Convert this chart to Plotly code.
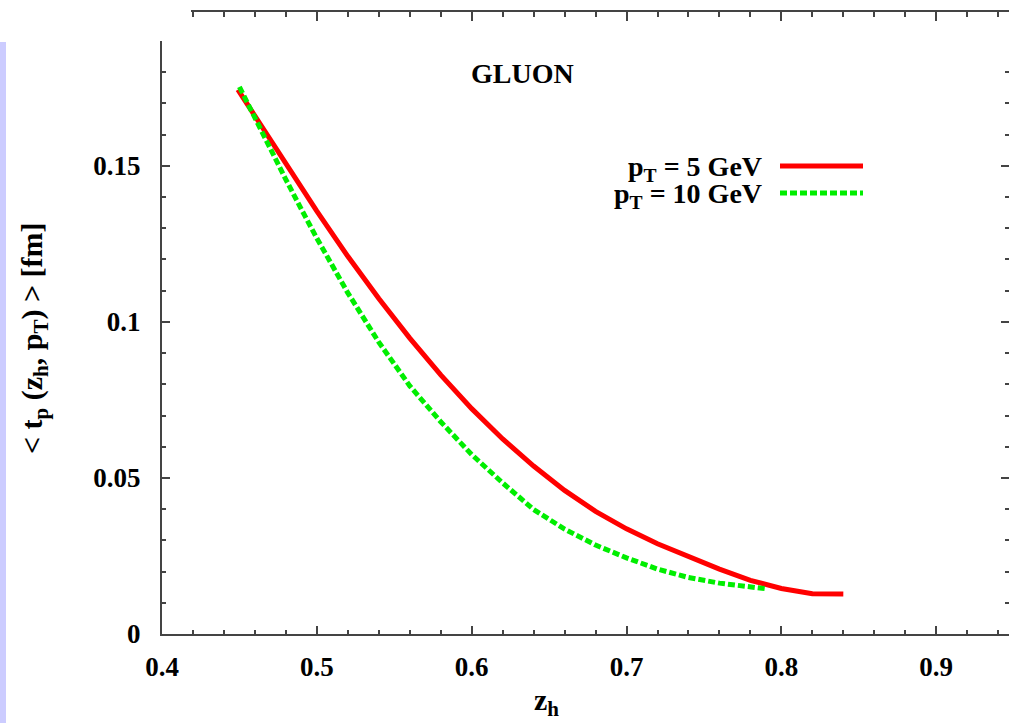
import plotly.graph_objects as go

# <t_p(z_h, p_T)> for gluons, two transverse momenta
z_pt5 = [0.449, 0.46, 0.48, 0.50, 0.52, 0.54, 0.56, 0.58, 0.60, 0.62, 0.64,
         0.66, 0.68, 0.70, 0.72, 0.74, 0.76, 0.78, 0.80, 0.82, 0.84]
t_pt5 = [0.1744, 0.1660, 0.1508, 0.1355, 0.1210, 0.1075, 0.0948, 0.0830, 0.0722, 0.0625, 0.0538,
         0.0460, 0.0393, 0.0337, 0.0289, 0.0247, 0.0208, 0.0172, 0.0146, 0.0129, 0.0128]

z_pt10 = [0.45, 0.46, 0.47, 0.48, 0.49, 0.50, 0.52, 0.54, 0.56, 0.58, 0.60,
          0.62, 0.64, 0.66, 0.68, 0.70, 0.72, 0.74, 0.76, 0.78, 0.79]
t_pt10 = [0.1753, 0.1652, 0.1553, 0.1456, 0.1361, 0.1268, 0.1093, 0.0935, 0.0795, 0.0680, 0.0575,
          0.0484, 0.0399, 0.0336, 0.0285, 0.0244, 0.0208, 0.0181, 0.0163, 0.0149, 0.0145]

x_ticks = [0.4, 0.5, 0.6, 0.7, 0.8, 0.9]
y_ticks = [0, 0.05, 0.1, 0.15]
y_tick_text = ["0", "0.05", "0.1", "0.15"]

W, H = 1009, 723
ML, MR, MT, MB = 162, 0, 11, 89
plot_w = W - ML - MR
plot_h = H - MT - MB
y_top = (634 - 41) / plot_h          # frame top of the main panel

AX = "#444444"
SERIF = "Liberation Serif"
tickfont = dict(family=SERIF, size=27, color="black", weight="bold")

fig = go.Figure()
fig.add_trace(go.Scatter(x=z_pt5, y=t_pt5, mode="lines",
                         line=dict(color="#ff0000", width=5), showlegend=False))
fig.add_trace(go.Scatter(x=z_pt10, y=t_pt10, mode="lines",
                         line=dict(color="#00ee00", width=5, dash="7px,3px"),
                         showlegend=False))
# empty traces so the auxiliary axes get drawn
fig.add_trace(go.Scatter(x=[], y=[], xaxis="x2", yaxis="y", showlegend=False, hoverinfo="skip"))
fig.add_trace(go.Scatter(x=[], y=[], xaxis="x", yaxis="y2", showlegend=False, hoverinfo="skip"))

fig.update_layout(
    width=W, height=H,
    margin=dict(l=ML, r=MR, t=MT, b=MB, pad=0),
    paper_bgcolor="white", plot_bgcolor="rgba(0,0,0,0)",
    showlegend=False,
    xaxis=dict(range=[0.4, 0.947], domain=[0, 1], tickvals=x_ticks,
               ticks="inside", ticklen=8, tickwidth=1.5, tickcolor=AX,
               minor=dict(dtick=0.02, tick0=0.4, ticks="inside", ticklen=4,
                          tickwidth=1.5, tickcolor=AX),
               showline=True, linecolor=AX, linewidth=2,
               showgrid=False, zeroline=False, tickfont=tickfont,
               ticklabelstandoff=8),
    yaxis=dict(range=[0, 0.19], domain=[0, y_top], tickvals=y_ticks, ticktext=y_tick_text,
               ticks="inside", ticklen=8, tickwidth=1.5, tickcolor=AX,
               minor=dict(dtick=0.01, tick0=0, ticks="inside", ticklen=4,
                          tickwidth=1.5, tickcolor=AX),
               showline=True, linecolor=AX, linewidth=2,
               showgrid=False, zeroline=False, tickfont=tickfont,
               ticklabelstandoff=14),
    xaxis2=dict(range=[0.4187, 0.947], domain=[29 / plot_w, 1], anchor="free",
                position=1, side="top", dtick=0.1, tick0=0.4,
                ticks="inside", ticklen=9, tickwidth=1.5, tickcolor=AX,
                minor=dict(dtick=0.02, tick0=0.4, ticks="inside", ticklen=5,
                           tickwidth=1.5, tickcolor=AX),
                showline=True, linecolor=AX, linewidth=1.5,
                showticklabels=False, showgrid=False, zeroline=False),
    yaxis2=dict(range=[0, 0.19], overlaying="y", side="right", anchor="x",
                dtick=0.05, tick0=0, ticks="inside", ticklen=8, tickwidth=1.5,
                tickcolor=AX,
                minor=dict(dtick=0.01, tick0=0, ticks="inside", ticklen=4,
                           tickwidth=1.5, tickcolor=AX),
                showline=False, showticklabels=False, showgrid=False, zeroline=False),
)

# lavender strip along the left edge
fig.add_shape(type="rect", xref="paper", yref="paper",
              x0=-ML / plot_w, x1=(6 - ML) / plot_w,
              y0=-MB / plot_h, y1=(634 - 42) / plot_h,
              fillcolor="#ccccff", line=dict(width=0), layer="below")

def px_x(px):
    return (px - ML) / plot_w

def px_y(py):
    return (634 - py) / plot_h

# legend keys drawn gnuplot-style: label on the left, sample line on the right
legend_rows = [("p<sub>T</sub> = 5 GeV", 166, dict(color="#ff0000", width=5)),
               ("p<sub>T</sub> = 10 GeV", 193, dict(color="#00ee00", width=5, dash="7px,3px"))]
for label, py, lstyle in legend_rows:
    fig.add_annotation(x=px_x(764), y=px_y(py + 2), xref="paper", yref="paper",
                       text=label, showarrow=False, xanchor="right", yanchor="middle",
                       font=dict(family=SERIF, size=28, color="black", weight="bold"))
    fig.add_shape(type="line", xref="paper", yref="paper",
                  x0=px_x(780), x1=px_x(863), y0=px_y(py), y1=px_y(py), line=lstyle)

fig.add_annotation(x=px_x(522), y=px_y(73), xref="paper", yref="paper",
                   text="GLUON", showarrow=False, xanchor="center", yanchor="middle",
                   font=dict(family=SERIF, size=28, color="black", weight="bold"))

fig.add_annotation(x=px_x(546), y=px_y(702), xref="paper", yref="paper",
                   text="z<sub>h</sub>", showarrow=False, xanchor="center", yanchor="middle",
                   font=dict(family=SERIF, size=30, color="black", weight="bold"))

fig.add_annotation(x=px_x(34), y=px_y(338), xref="paper", yref="paper",
                   text="< t<sub>p</sub> (z<sub>h</sub>, p<sub>T</sub>) > [fm]",
                   textangle=-90, showarrow=False, xanchor="center", yanchor="middle",
                   font=dict(family=SERIF, size=30, color="black", weight="bold"))

fig.write_html("out.html")
